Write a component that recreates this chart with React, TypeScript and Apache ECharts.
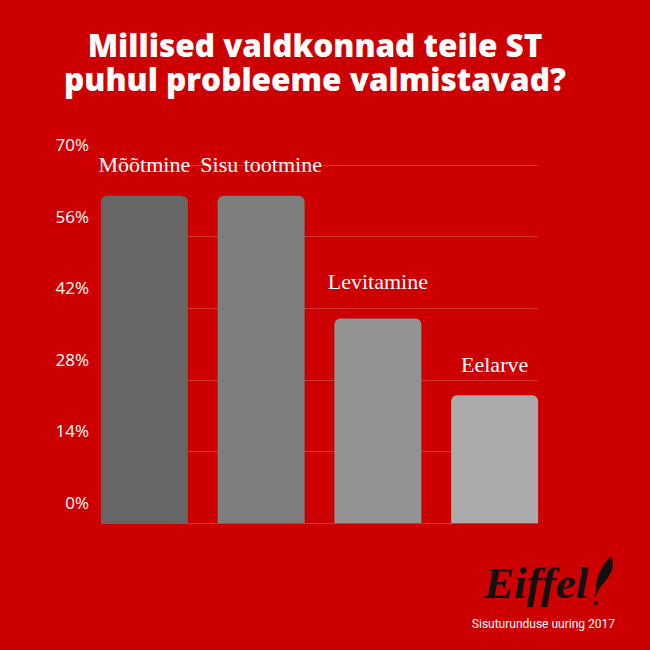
import React, { useEffect, useRef } from "react";
import * as echarts from "echarts";

const categories = ["Mõõtmine", "Sisu tootmine", "Levitamine", "Eelarve"];
const values = [64, 64, 40, 25];
const barColors = ["#666666", "#7d7d7d", "#939393", "#aaaaaa"];
const yTicks = { min: 0, max: 70, interval: 14 };
const titleLines = ["Millised valdkonnad teile ST", "puhul probleeme valmistavad?"];
const footer = "Sisuturunduse uuring 2017";
const logoText = "Eiffel";

const quillPath =
  "M20 0 C24 8 21 17 15 24 C13 27 10 30 8 33 L5 40 L3.5 40 L5.5 33 C4 26 8 12 20 0 Z";

let registered = false;
function registerShapes() {
  if (registered) return;
  echarts.graphic.registerShape("quill", (echarts.graphic as any).extendPath(quillPath, {}));
  registered = true;
}

export default function App() {
  const ref = useRef<HTMLDivElement>(null);
  useEffect(() => {
    document.body.style.margin = "0";
    registerShapes();
    const chart = echarts.init(ref.current!, undefined, { renderer: "svg" });
    chart.setOption({
      animation: false,
      backgroundColor: "#cc0000",
      grid: [
        { left: 101, right: 112, top: 165, bottom: 127 },
        { left: 86, right: 97, top: 165, bottom: 127 },
      ],
      xAxis: [
        { type: "category", gridIndex: 0, data: ["a"], show: false },
        { type: "category", gridIndex: 1, data: categories, show: false },
      ],
      yAxis: [
        {
          type: "value",
          gridIndex: 0,
          min: yTicks.min,
          max: yTicks.max,
          interval: yTicks.interval,
          axisLine: { show: false },
          axisTick: { show: false },
          axisLabel: {
            formatter: "{value}%",
            color: "#ffffff",
            fontSize: 17,
            fontFamily: "Open Sans",
            margin: 12,
            verticalAlign: "bottom",
            padding: [0, 0, 12, 0],
          },
          splitLine: { lineStyle: { color: "rgba(255,255,255,0.2)", width: 1 } },
        },
        { type: "value", gridIndex: 1, min: yTicks.min, max: yTicks.max, show: false },
      ],
      series: [
        {
          type: "bar",
          xAxisIndex: 1,
          yAxisIndex: 1,
          barWidth: 87,
          data: values.map((v, i) => ({
            value: v,
            itemStyle: { color: barColors[i], borderRadius: [6, 6, 0, 0] },
            label: i === 2 ? { distance: 26 } : undefined,
          })),
          label: {
            show: true,
            position: "top",
            distance: 20,
            formatter: "{b}",
            color: "#ffffff",
            fontFamily: "Liberation Serif",
            fontSize: 22,
          },
        },
      ],
      graphic: [
        {
          type: "text",
          x: 315,
          y: 28,
          style: {
            text: titleLines[0],
            fill: "#ffffff",
            font: "800 31.5px 'Open Sans'",
            lineHeight: 33,
            textAlign: "center",
          } as any,
        },
        {
          type: "text",
          x: 315,
          y: 62,
          style: {
            text: titleLines[1],
            fill: "#ffffff",
            font: "800 31.5px 'Open Sans'",
            lineHeight: 33,
            textAlign: "center",
          } as any,
        },
        {
          type: "text",
          x: 484,
          y: 560,
          style: {
            text: logoText,
            fill: "#111111",
            font: "italic bold 45px 'Liberation Serif'",
          },
        },
        {
          type: "quill",
          x: 591,
          y: 556,
          scaleX: 1,
          scaleY: 1,
          style: { fill: "#111111" },
        } as any,
        {
          type: "circle",
          shape: { cx: 596, cy: 603, r: 2 },
          style: { fill: "#111111" },
        },
        {
          type: "text",
          x: 615,
          y: 618,
          style: {
            text: footer,
            fill: "#ffffff",
            font: "12px Roboto",
            textAlign: "right",
          } as any,
        },
      ],
    });
    return () => chart.dispose();
  }, []);
  return <div ref={ref} style={{ width: 650, height: 650 }} />;
}
